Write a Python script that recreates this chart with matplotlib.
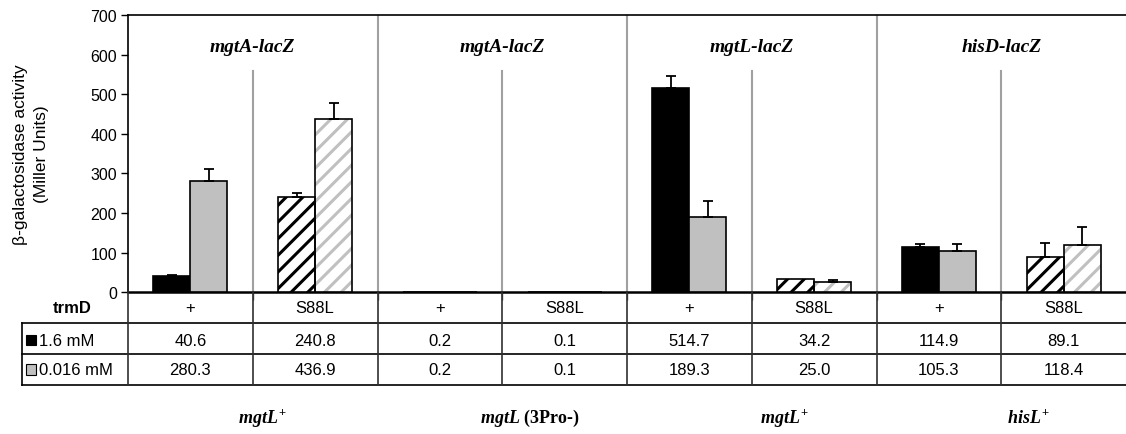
import matplotlib
matplotlib.use("Agg")
import matplotlib.pyplot as plt
import matplotlib.transforms as mtransforms
import numpy as np

plt.rcParams['font.family'] = ['Liberation Sans', 'DejaVu Sans']
plt.rcParams['mathtext.fontset'] = 'custom'
plt.rcParams['mathtext.it'] = 'Liberation Serif:bold:italic'
plt.rcParams['mathtext.rm'] = 'Liberation Serif:bold'
plt.rcParams['mathtext.bf'] = 'Liberation Serif:bold'
plt.rcParams['hatch.linewidth'] = 2.2

# data
trmd = ['+', 'S88L', '+', 'S88L', '+', 'S88L', '+', 'S88L']
mg_high = [40.6, 240.8, 0.2, 0.1, 514.7, 34.2, 114.9, 89.1]
mg_low = [280.3, 436.9, 0.2, 0.1, 189.3, 25.0, 105.3, 118.4]
err_high = [2, 10, 0, 0, 32, 0, 7, 35]
err_low = [31, 41, 0, 0, 42, 6, 17, 46]
reporters = ['mgtA-lacZ', 'mgtA-lacZ', 'mgtL-lacZ', 'hisD-lacZ']
leaders = [r'$mgtL^{+}$', r'$mgtL$ (3Pro-)', r'$mgtL^{+}$', r'$hisL^{+}$']
series = ['1.6 mM', '0.016 mM']

W, H = 1126, 435
fig = plt.figure(figsize=(W / 100, H / 100), dpi=100)
ax = fig.add_axes([128 / W, 141.7 / H, 998 / W, 277.3 / H])

x = np.arange(len(trmd))
bw = 0.296
grey = '#c0c0c0'
for i in x:
    mutant = trmd[i] != '+'
    for j, (vals, errs, col) in enumerate([(mg_high, err_high, 'black'), (mg_low, err_low, grey)]):
        xpos = i - bw / 2 + j * bw
        if mutant:
            ax.bar(xpos, vals[i], bw, color='white', edgecolor=col, hatch='//', linewidth=0, zorder=3)
            ax.bar(xpos, vals[i], bw, fill=False, edgecolor='black', linewidth=1.2, zorder=4)
        else:
            ax.bar(xpos, vals[i], bw, color=col, edgecolor='black', linewidth=1.2, zorder=3)
        if errs[i] > 0:
            ax.errorbar(xpos, vals[i], yerr=[[0], [errs[i]]], fmt='none', ecolor='black',
                        elinewidth=1.3, capsize=3.8, capthick=1.3, zorder=5)

ax.set_xlim(-0.5, 7.5)
ax.set_ylim(0, 700)
ax.set_yticks(range(0, 701, 100))
ax.tick_params(axis='y', length=5, width=1, labelsize=11.5, pad=3)
ax.set_xticks(np.arange(0.5, 7, 1))
ax.tick_params(axis='x', length=6, width=1, labelbottom=False, color='#505050')
for s in ['left', 'top']:
    ax.spines[s].set_linewidth(1.2)
ax.spines['bottom'].set_linewidth(1.8)
ax.spines['right'].set_visible(False)
ax.set_ylabel('β-galactosidase activity\n(Miller Units)', fontsize=12.5, linespacing=1.55)
ax.yaxis.label.set_va('center')
ax.yaxis.set_label_coords(-97 / 998, 0.5)

# dividers and reporter titles
for b in np.arange(0.5, 7, 1):
    between = int(b - 0.5) % 2 == 1
    ax.axvline(b, ymin=0, ymax=1 if between else 0.798, color='#a0a0a0', lw=1.5, zorder=1)
for g, name in enumerate(reporters):
    ax.text(2 * g + 0.5, 0.885, name, transform=ax.get_xaxis_transform(), ha='center', va='center',
            fontsize=14, fontweight='bold', fontstyle='italic', family='Liberation Serif')

# data table below the chart
tax = fig.add_axes([128 / W, 49 / H, 998 / W, 92.7 / H])
tax.set_xlim(-0.5, 7.5)
tax.set_ylim(3, 0)
tax.axis('off')
lbl_left = -0.5 - 106 / 124.75
for yy in [1, 2, 3]:
    tax.plot([lbl_left, 7.5], [yy, yy], color='black', lw=1.2, clip_on=False)
tax.plot([lbl_left, lbl_left], [1, 3], color='black', lw=1.2, clip_on=False)
for b in np.arange(-0.5, 7, 1):
    tax.plot([b, b], [0, 3], color='#303030', lw=1.2, clip_on=False)
tax.text(lbl_left + 0.4, 0.5, 'trmD', ha='center', va='center', fontsize=12, fontweight='bold')
for i in x:
    tax.text(i, 0.5, trmd[i], ha='center', va='center', fontsize=12)
    tax.text(i, 1.55, f'{mg_high[i]:.1f}', ha='center', va='center', fontsize=12)
    tax.text(i, 2.5, f'{mg_low[i]:.1f}', ha='center', va='center', fontsize=12)
for r, (name, col) in enumerate(zip(series, ['black', grey])):
    yc = 1.55 + r * 0.95
    tax.add_patch(plt.Rectangle((lbl_left + 0.03, yc - 0.17), 0.085, 0.34, facecolor=col,
                                edgecolor='black', lw=0.8, clip_on=False))
    tax.text(lbl_left + 0.14, yc, name, ha='left', va='center', fontsize=12)

# leader labels at the bottom
label_shift = [0.08, 0.22, 0.26, 0.22]
blend = mtransforms.blended_transform_factory(ax.transData, fig.transFigure)
for g, lab in enumerate(leaders):
    fig.text(2 * g + 0.5 + label_shift[g], 12 / H, lab, ha='center', va='baseline',
             fontsize=13, fontweight='bold', family='Liberation Serif', transform=blend)

fig.savefig('out.png', dpi=100)
